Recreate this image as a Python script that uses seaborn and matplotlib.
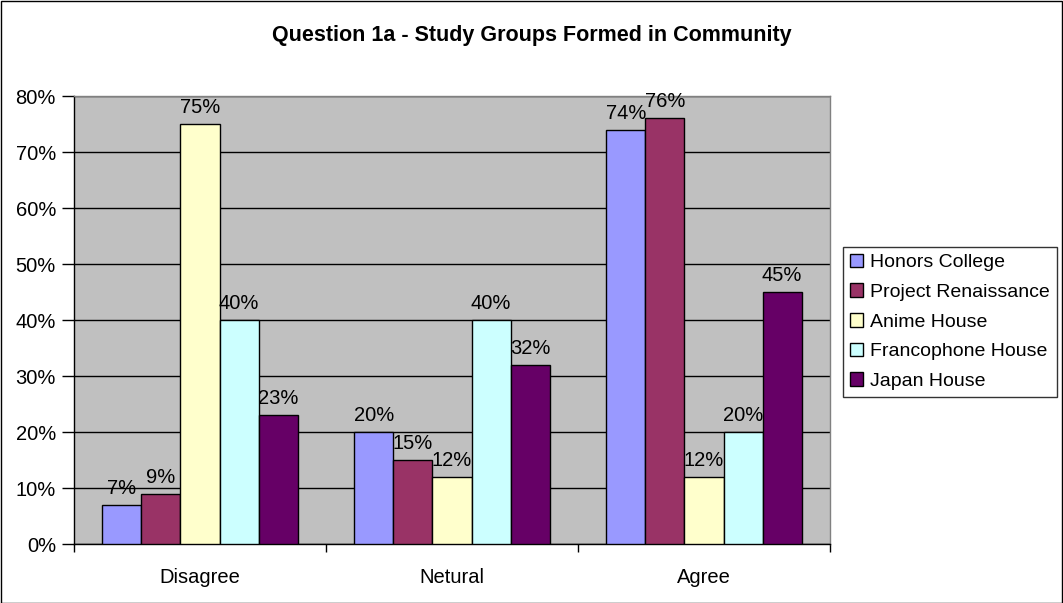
import pandas as pd
import seaborn as sns
import matplotlib.pyplot as plt
from matplotlib.patches import Rectangle
from matplotlib.ticker import FuncFormatter, FixedLocator

responses = ["Disagree", "Netural", "Agree"]
houses = ["Honors College", "Project Renaissance", "Anime House",
          "Francophone House", "Japan House"]
honors = [7, 20, 74]
renaissance = [9, 15, 76]
anime = [75, 12, 12]
francophone = [40, 40, 20]
japan = [23, 32, 45]
colors = ["#9999FF", "#993366", "#FFFFCC", "#CCFFFF", "#660066"]

rows = []
for house, vals in zip(houses, [honors, renaissance, anime, francophone, japan]):
    for resp, v in zip(responses, vals):
        rows.append({"Response": resp, "House": house, "Percent": v})
frame = pd.DataFrame(rows)

sns.set_style("white")
plt.rcParams["font.family"] = ["Liberation Sans", "DejaVu Sans"]
plt.rcParams["text.color"] = "black"
plt.rcParams["xtick.color"] = "black"
plt.rcParams["ytick.color"] = "black"

fs = 14.5

fig = plt.figure(figsize=(10.63, 6.03), dpi=100)
ax = fig.add_axes([74 / 1063, 1 - 544 / 603, (830 - 74) / 1063, (544 - 96) / 603])

sns.barplot(data=frame, x="Response", y="Percent", hue="House", order=responses,
            hue_order=houses, palette=colors, width=0.775, saturation=1,
            edgecolor="black", linewidth=1, errorbar=None, ax=ax, zorder=3)

for cont in ax.containers:
    ax.bar_label(cont, fmt="%d%%", fontsize=fs, padding=5, color="black")

ax.set_facecolor("#C0C0C0")
ax.set_ylim(0, 80)
ax.set_xlim(-0.5, 2.5)
ax.yaxis.set_major_locator(FixedLocator(range(0, 81, 10)))
ax.yaxis.set_major_formatter(FuncFormatter(lambda v, p: f"{int(v)}%"))
ax.grid(axis="y", color="black", linewidth=1, zorder=1)
ax.set_axisbelow(True)
ax.tick_params(axis="y", which="major", left=True, length=9, width=1,
               labelsize=fs, pad=4, color="black")
ax.tick_params(axis="x", which="major", bottom=False, labelsize=fs, pad=14)
ax.set_xticks([-0.5, 0.5, 1.5, 2.5], minor=True)
ax.tick_params(axis="x", which="minor", bottom=True, length=6, width=1, color="black")
ax.set_xlabel("")
ax.set_ylabel("")
for side in ["top", "right"]:
    ax.spines[side].set_color("#808080")
for side in ["left", "bottom"]:
    ax.spines[side].set_color("black")
for sp in ax.spines.values():
    sp.set_linewidth(1)

ax.get_legend().remove()
handles = [Rectangle((0, 0), 1, 1, facecolor=c, edgecolor="black", linewidth=1)
           for c in colors]
leg = fig.legend(handles, houses, loc="upper left",
                 bbox_to_anchor=(843 / 1063, 1 - 247 / 603), fontsize=14,
                 frameon=True, fancybox=False, edgecolor="black",
                 handlelength=0.7, handleheight=0.7, handletextpad=0.35,
                 labelspacing=0.62, borderpad=0.35, borderaxespad=0)
leg.get_frame().set_linewidth(1)

fig.suptitle("Question 1a - Study Groups Formed in Community", fontsize=15.5,
             fontweight="bold", x=0.5, y=1 - 36 / 603, va="center")

fig.patches.append(Rectangle((0.5 / 1063, 0.5 / 603), 1 - 1.5 / 1063, 1 - 1.5 / 603,
                             transform=fig.transFigure, fill=False,
                             edgecolor="black", linewidth=1))

fig.savefig("out.png", dpi=100)
